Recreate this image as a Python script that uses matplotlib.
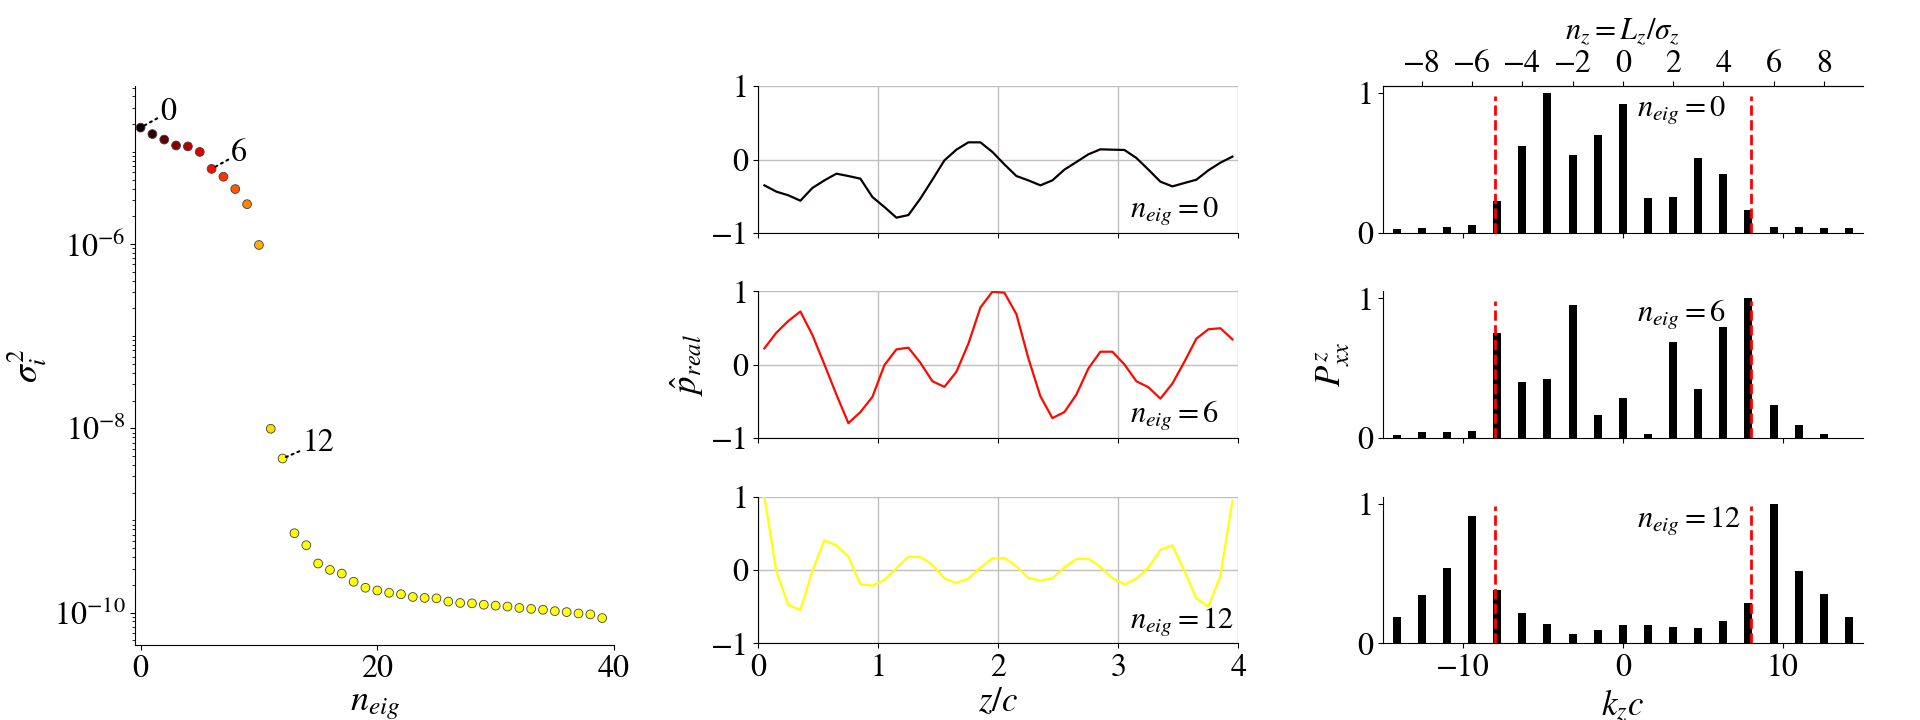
import numpy as np
import matplotlib
matplotlib.use('Agg')
import matplotlib.pyplot as plt
from matplotlib.ticker import LogLocator, NullFormatter, FixedLocator

plt.rcParams['font.family'] = 'STIXGeneral'
plt.rcParams['mathtext.fontset'] = 'stix'

# singularni hodnoty (log10)
n_eig = np.arange(40)
log_sigma2 = [-4.736, -4.806, -4.866, -4.930, -4.940, -5.000, -5.184, -5.269,
              -5.403, -5.567, -6.010, -8.005, -8.328, -9.139, -9.269, -9.468,
              -9.537, -9.577, -9.666, -9.731, -9.761, -9.786, -9.801, -9.831,
              -9.841, -9.846, -9.881, -9.896, -9.900, -9.915, -9.925, -9.935,
              -9.950, -9.960, -9.970, -9.985, -9.995, -10.010, -10.020, -10.060]
sigma2 = 10.0 ** np.array(log_sigma2)
labeled = [0, 6, 12]

# vlastni vektory v z
z = 0.05 + 0.1 * np.arange(40)
p_0 = [-0.350, -0.436, -0.486, -0.559, -0.386, -0.282, -0.191, -0.223, -0.259, -0.509,
       -0.645, -0.790, -0.755, -0.530, -0.273, -0.010, 0.136, 0.236, 0.236, 0.105,
       -0.064, -0.223, -0.282, -0.350, -0.282, -0.136, -0.032, 0.073, 0.141, 0.136,
       0.132, 0.023, -0.136, -0.300, -0.364, -0.318, -0.273, -0.145, -0.041, 0.041]
p_6 = [0.224, 0.438, 0.598, 0.726, 0.406, 0.005, -0.406, -0.795, -0.644, -0.438,
       -0.005, 0.210, 0.233, 0.027, -0.224, -0.301, -0.096, 0.288, 0.780, 0.995,
       0.982, 0.690, 0.087, -0.429, -0.726, -0.644, -0.406, -0.050, 0.178, 0.178,
       0.005, -0.224, -0.306, -0.461, -0.256, 0.041, 0.356, 0.484, 0.498, 0.347]
p_12 = [1.000, -0.023, -0.477, -0.545, -0.014, 0.405, 0.336, 0.182, -0.195, -0.214,
        -0.136, 0.023, 0.182, 0.177, 0.073, -0.114, -0.177, -0.118, 0.032, 0.159,
        0.164, 0.050, -0.109, -0.145, -0.114, 0.036, 0.150, 0.155, 0.041, -0.114,
        -0.195, -0.118, 0.032, 0.273, 0.336, -0.014, -0.386, -0.500, -0.082, 0.940]
profiles = [p_0, p_6, p_12]

# spektrum v k_z
n_z = np.arange(-9, 10)
P_0 = [0.026, 0.036, 0.046, 0.056, 0.226, 0.620, 1.000, 0.557, 0.700, 0.920,
       0.250, 0.260, 0.535, 0.420, 0.164, 0.046, 0.043, 0.033, 0.033]
P_6 = [0.020, 0.046, 0.043, 0.050, 0.750, 0.405, 0.424, 0.950, 0.164, 0.290,
       0.033, 0.690, 0.355, 0.796, 1.000, 0.234, 0.092, 0.033, 0.003]
P_12 = [0.190, 0.345, 0.536, 0.910, 0.380, 0.220, 0.138, 0.069, 0.095, 0.128,
        0.128, 0.118, 0.108, 0.160, 0.290, 1.000, 0.520, 0.350, 0.190]
spectra = [P_0, P_6, P_12]
k_cut = 8.0
L_z = 4.0

cmap = plt.get_cmap('hot')
colors = cmap(np.minimum(n_eig, 12) / 16.0)
line_colors = [cmap(i / 16.0) for i in labeled]

TICK = 23

fig = plt.figure(figsize=(19.2, 7.2), dpi=100)

# --- levy panel
ax = fig.add_axes([0.0705, 0.1046, 0.2493, 0.7756])
ax.scatter(n_eig, sigma2, c=colors, s=40, edgecolors='0.25', linewidths=0.6, zorder=3)
ax.set_yscale('log')
ax.set_xlim(-0.44, 40)
ax.set_ylim(10 ** -10.349, 10 ** -4.287)
ax.yaxis.set_major_locator(FixedLocator([1e-10, 1e-8, 1e-6]))
ax.yaxis.set_minor_locator(LogLocator(base=10, subs=np.arange(1, 10), numticks=50))
ax.yaxis.set_minor_formatter(NullFormatter())
ax.set_xticks([0, 20, 40])
ax.spines['top'].set_visible(False)
ax.spines['right'].set_visible(False)
ax.tick_params(labelsize=TICK)
ax.set_xlabel(r'$n_{eig}$', fontsize=26)
ax.set_ylabel(r'$\sigma_i^2$', fontsize=26)
ax.yaxis.set_label_coords(-0.18, 0.5)
ax.xaxis.set_label_coords(0.5, -0.079)
for i in labeled:
    ax.annotate(str(i), xy=(i, sigma2[i]), xytext=(14, 11), textcoords='offset points',
                ha='left', va='center', fontsize=TICK,
                arrowprops=dict(arrowstyle='-', linestyle=(0, (1, 2)), color='k', lw=1.5,
                                shrinkA=0, shrinkB=1))

# --- prostredni panel
rows_y = [0.6763, 0.3914, 0.1064]
row_h = 0.2039
for r in range(3):
    ax = fig.add_axes([0.395, rows_y[r], 0.25, row_h])
    ax.plot(z, profiles[r], color=line_colors[r], lw=1.6)
    ax.set_xlim(0, 4)
    ax.set_ylim(-1, 1)
    ax.set_xticks([0, 1, 2, 3, 4])
    ax.set_yticks([-1, 0, 1])
    ax.grid(True, color='0.75', lw=1.0)
    ax.spines['top'].set_visible(False)
    ax.spines['right'].set_visible(False)
    ax.tick_params(labelsize=TICK)
    ax.text(0.775, 0.15, r'$n_{eig}=%d$' % labeled[r], transform=ax.transAxes,
            ha='left', va='center', fontsize=22)
    if r < 2:
        ax.tick_params(labelbottom=False)
    else:
        ax.set_xlabel(r'$z/c$', fontsize=25)
        ax.xaxis.set_label_coords(0.5, -0.3)
    if r == 1:
        ax.set_ylabel(r'$\hat{p}_{real}$', fontsize=25)
        ax.yaxis.set_label_coords(-0.109, 0.5)

# --- pravy panel
k_z = n_z * 2 * np.pi / L_z
for r in range(3):
    ax = fig.add_axes([0.7202, rows_y[r], 0.25, row_h])
    ax.bar(k_z, spectra[r], width=0.5, color='k', zorder=2)
    ax.vlines([-k_cut, k_cut], 0, 0.98, colors='red', linestyles='--', lw=2, zorder=3)
    ax.set_xlim(-15, 15)
    ax.set_ylim(0, 1.05)
    ax.set_xticks([-10, 0, 10])
    ax.set_yticks([0, 1])
    ax.spines['right'].set_visible(False)
    ax.tick_params(labelsize=TICK)
    ax.text(0.53, 0.84, r'$n_{eig}=%d$' % labeled[r], transform=ax.transAxes,
            ha='left', va='center', fontsize=22)
    if r == 0:
        sec = ax.secondary_xaxis('top', functions=(lambda k: k * L_z / (2 * np.pi),
                                                   lambda n: n * 2 * np.pi / L_z))
        sec.set_xticks(np.arange(-8, 9, 2))
        sec.tick_params(labelsize=TICK, pad=2)
        sec.set_xlabel(r'$n_z=L_z/\sigma_z$', fontsize=22, labelpad=7)
    else:
        ax.spines['top'].set_visible(False)
    if r < 2:
        ax.tick_params(labelbottom=False)
    else:
        ax.set_xlabel(r'$k_zc$', fontsize=25)
        ax.xaxis.set_label_coords(0.5, -0.3)
    if r == 1:
        ax.set_ylabel(r'$P^z_{xx}$', fontsize=25)
        ax.yaxis.set_label_coords(-0.064, 0.5)

fig.savefig('out.png', dpi=100)
